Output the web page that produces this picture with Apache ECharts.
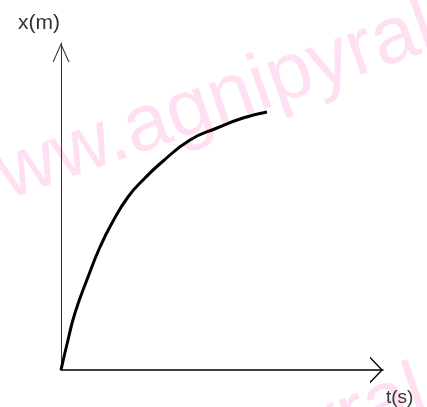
<!DOCTYPE html>
<html>
<head>
<meta charset="utf-8">
<script src="https://cdn.jsdelivr.net/npm/echarts@6/dist/echarts.min.js"></script>
<style>
  html, body { margin: 0; padding: 0; background: #fff; }
  #chart { width: 427px; height: 407px; }
</style>
</head>
<body>
<div id="chart"></div>
<script>
// time (s) and position (m)
var timeVals = [0, 7, 14, 27, 39, 51, 67, 84, 101, 129, 156, 182, 206];
var posVals  = [0, 30, 57, 93, 123, 147, 173, 192, 208, 230, 242, 252, 258];
var tMax = 322;
var xMax = 327;
var watermark = 'www.agnipyral.com';

var chart = echarts.init(document.getElementById('chart'));

var points = timeVals.map(function (t, i) {
    return [t, posVals[i]];
});

function wm(x, y) {
    return {
        type: 'text',
        x: x,
        y: y,
        rotation: 0.34,
        z: -10,
        silent: true,
        style: {
            text: watermark,
            fill: '#ffe0f2',
            font: '80px "Liberation Sans", Arial, sans-serif',
            align: 'left',
            verticalAlign: 'middle'
        }
    };
}

chart.setOption({
    animation: false,
    backgroundColor: '#fff',
    grid: { left: 61, right: 44, top: 43, bottom: 37 },
    graphic: [wm(-54, 198), wm(-62, 563)],
    xAxis: {
        type: 'value',
        min: 0,
        max: tMax,
        name: 't(s)',
        nameLocation: 'end',
        nameGap: 3,
        nameTextStyle: {
            color: '#333',
            fontSize: 19,
            fontFamily: 'Liberation Sans Narrow, Liberation Sans, sans-serif',
            verticalAlign: 'top',
            padding: [18, 0, 0, 0]
        },
        axisLine: {
            lineStyle: { color: '#000', width: 1.5 },
            symbol: ['none', 'path://M0,13 L13.5,0 L27,13 L25,13 L13.5,1.9 L2,13 Z'],
            symbolSize: [27, 13],
            symbolOffset: [0, -6.5]
        },
        axisTick: { show: false },
        axisLabel: { show: false },
        splitLine: { show: false }
    },
    yAxis: {
        type: 'value',
        min: 0,
        max: xMax,
        name: 'x(m)',
        nameLocation: 'end',
        nameGap: 9,
        nameTextStyle: {
            color: '#333',
            fontSize: 21,
            fontFamily: 'Liberation Sans, sans-serif',
            align: 'right',
            padding: [0, 1, 0, 0]
        },
        axisLine: {
            lineStyle: { color: '#333', width: 1 },
            symbol: ['none', 'path://M0,19 L8.5,0 L17,19 L15.8,19 L8.5,2.5 L1.2,19 Z'],
            symbolSize: [17, 19],
            symbolOffset: [0, -9.5]
        },
        axisTick: { show: false },
        axisLabel: { show: false },
        splitLine: { show: false }
    },
    series: [{
        type: 'line',
        data: points,
        smooth: 0.5,
        showSymbol: false,
        lineStyle: { color: '#000', width: 3 }
    }]
});
</script>
</body>
</html>
